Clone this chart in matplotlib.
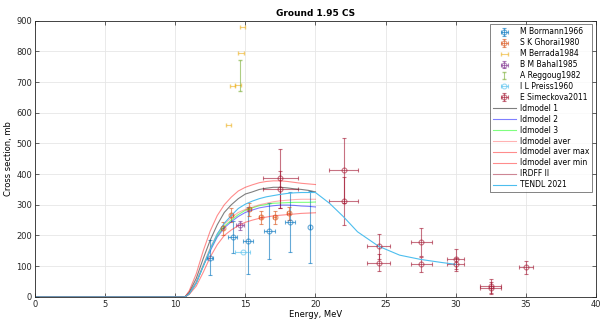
import numpy as np
import matplotlib
matplotlib.use('Agg')
import matplotlib.pyplot as plt

plt.rcParams['font.family'] = 'DejaVu Sans'
plt.rcParams['font.size'] = 6

# experimental data (energy MeV, cross section mb, errors)
bormann_x = [12.5, 14.1, 15.2, 16.7, 18.2, 19.6]
bormann_y = [128, 196, 183, 215, 243, 228]
bormann_dy = [57, 52, 110, 90, 98, 116]
bormann_dx = [0.2, 0.3, 0.35, 0.4, 0.35, 0.0]

ghorai_x = [13.38, 14.0, 15.29, 16.1, 17.09, 18.09]
ghorai_y = [223, 266, 285, 259, 259, 272]
ghorai_dy = [20, 22, 22, 22, 22, 22]
ghorai_dx = [0.1, 0.1, 0.1, 0.1, 0.1, 0.1]

berrada_x = [13.8, 14.1, 14.5, 14.7, 14.8]
berrada_y = [561, 687, 691, 795, 879]
berrada_dx = [0.2, 0.2, 0.2, 0.2, 0.2]

bahal_x = [14.64]
bahal_y = [233]
bahal_dy = [14]
bahal_dx = [0.3]

reggoug_x = [14.6]
reggoug_y = [721]
reggoug_dy = [50]

preiss_x = [14.8]
preiss_y = [147]
preiss_dx = [0.5]

sim_x = [17.5, 17.5, 22.0, 22.0, 24.5, 24.5, 27.55, 27.55, 30.0, 30.0, 32.5, 32.5, 35.0]
sim_y = [386, 350, 412, 311, 165, 112, 179, 106, 123, 106, 36, 30, 96]
sim_dy = [95, 60, 105, 78, 40, 27, 45, 25, 32, 22, 22, 20, 22]
sim_dx = [1.25, 1.25, 1.0, 1.0, 0.8, 0.8, 0.75, 0.75, 0.6, 0.6, 0.75, 0.75, 0.5]

# model curves
model_e = [0, 10.7, 11, 11.5, 12, 12.5, 13, 13.5, 14, 14.5, 15, 15.5, 16, 16.5, 17, 17.5, 18, 18.5, 19, 19.5, 20]
ld1 = [0, 0, 15, 60, 125, 185, 235, 275, 300, 320, 335, 342, 350, 354, 357, 357, 355, 352, 350, 347, 342]
ld2 = [0, 0, 10, 45, 100, 150, 195, 225, 245, 262, 275, 283, 290, 294, 297, 299, 299, 298, 296, 295, 293]
ld3 = [0, 0, 10, 45, 100, 155, 200, 230, 250, 268, 282, 290, 297, 301, 305, 306, 307, 308, 308, 308, 309]
aver = [0, 0, 12, 50, 105, 160, 205, 237, 258, 275, 285, 292, 300, 305, 310, 313, 315, 317, 318, 318, 318]
aver_max = [0, 0, 20, 75, 150, 215, 265, 300, 325, 345, 357, 365, 372, 376, 378, 378, 376, 373, 370, 368, 366]
aver_min = [0, 0, 8, 35, 80, 130, 170, 200, 218, 232, 243, 250, 256, 260, 264, 266, 268, 270, 272, 273, 274]

tendl_e = [0, 10.7, 11, 11.5, 12, 12.5, 13, 13.5, 14, 14.5, 15, 15.5, 16, 16.5, 17, 17.5, 18, 18.5, 19, 19.5, 20,
           21, 22, 23, 24.5, 26, 27.5, 29, 30]
tendl = [0, 0, 10, 45, 100, 155, 205, 240, 265, 288, 302, 312, 320, 326, 330, 334, 337, 339, 340, 340, 340,
         305, 261, 212, 165, 136, 122, 112, 106]

fig = plt.figure(figsize=(6.02, 3.22), dpi=100)
ax = fig.add_axes([0.058, 0.078, 0.932, 0.858])

handles = []
eb = dict(fmt='o', ms=3.5, mfc='none', capsize=1.5, elinewidth=0.8, mew=0.8, alpha=0.6)
handles.append(ax.errorbar(bormann_x, bormann_y, yerr=bormann_dy, xerr=bormann_dx, color='#0072BD',
                           label='M Bormann1966', **eb))
handles.append(ax.errorbar(ghorai_x, ghorai_y, yerr=ghorai_dy, xerr=ghorai_dx, color='#D95319',
                           label='S K Ghorai1980', **eb))
handles.append(ax.errorbar(berrada_x, berrada_y, xerr=berrada_dx, fmt='none', capsize=1.5, elinewidth=0.8,
                           color='#EDB120', alpha=0.6, label='M Berrada1984'))
handles.append(ax.errorbar(bahal_x, bahal_y, yerr=bahal_dy, xerr=bahal_dx, color='#7E2F8E',
                           label='B M Bahal1985', **eb))
handles.append(ax.errorbar(reggoug_x, reggoug_y, yerr=reggoug_dy, fmt='none', capsize=1.5, elinewidth=0.8,
                           color='#77AC30', alpha=0.6, label='A Reggoug1982'))
handles.append(ax.errorbar(preiss_x, preiss_y, xerr=preiss_dx, color='#4DBEEE', label='I L Preiss1960', **eb))
handles.append(ax.errorbar(sim_x, sim_y, yerr=sim_dy, xerr=sim_dx, color='#A2142F',
                           label='E Simeckova2011', **eb))

handles += ax.plot(model_e, ld1, color='k', alpha=0.5, lw=0.8, label='ldmodel 1')
handles += ax.plot(model_e, ld2, color='#0000FF', alpha=0.5, lw=0.8, label='ldmodel 2')
handles += ax.plot(model_e, ld3, color='#00FF00', alpha=0.5, lw=0.8, label='ldmodel 3')
handles += ax.plot(model_e, aver, color='#FF0000', alpha=0.3, lw=0.8, label='ldmodel aver')
handles += ax.plot(model_e, aver_max, color='#FF0000', alpha=0.45, lw=0.8, label='ldmodel aver max')
handles += ax.plot(model_e, aver_min, color='#FF0000', alpha=0.45, lw=0.8, label='ldmodel aver min')
handles += ax.plot([], [], color='#A2142F', alpha=0.5, lw=0.8, label='IRDFF II')
handles += ax.plot(tendl_e, tendl, color='#4DBEEE', lw=0.8, label='TENDL 2021')

ax.set_xlim(0, 40)
ax.set_ylim(0, 900)
ax.set_xticks(np.arange(0, 41, 5))
ax.set_yticks(np.arange(0, 901, 100))
ax.grid(True, color='#e6e6e6', lw=0.6)
ax.set_axisbelow(True)
ax.tick_params(direction='in', length=3, width=0.5, colors='#262626', top=True, right=True, pad=2)
for s in ax.spines.values():
    s.set_color('#262626')
    s.set_linewidth(0.6)
ax.set_title('Ground 1.95 CS', fontweight='bold', fontsize=6.5, pad=3)
ax.set_xlabel('Energy, MeV', labelpad=1)
ax.set_ylabel('Cross section, mb', labelpad=2)

leg = ax.legend(handles=handles, loc='upper right', fontsize=5.5, fancybox=False, edgecolor='#262626',
                handlelength=3, labelspacing=0.25, borderpad=0.4, handletextpad=0.5)
leg.get_frame().set_linewidth(0.5)

fig.savefig('out.png', dpi=100)
